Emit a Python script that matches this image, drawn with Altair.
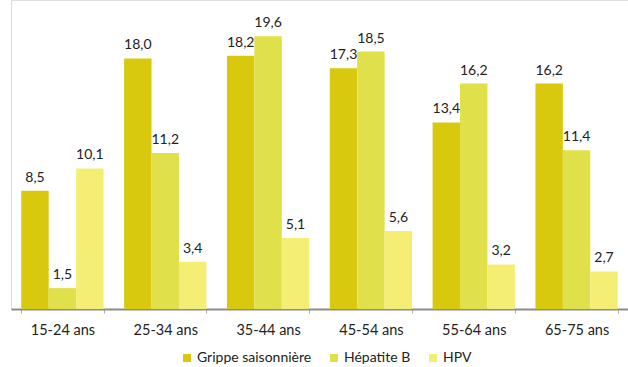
import altair as alt
import pandas as pd

categories = ["15-24 ans", "25-34 ans", "35-44 ans", "45-54 ans", "55-64 ans", "65-75 ans"]
series = ["Grippe saisonnière", "Hépatite B", "HPV"]
grippe = [8.5, 18.0, 18.2, 17.3, 13.4, 16.2]
hepatite = [1.5, 11.2, 19.6, 18.5, 16.2, 11.4]
hpv = [10.1, 3.4, 5.1, 5.6, 3.2, 2.7]
colors = ["#D9C90E", "#E0E04A", "#F4EF74"]

rows = []
for s, vals in zip(series, [grippe, hepatite, hpv]):
    for c, v in zip(categories, vals):
        rows.append({"cat": c, "serie": s, "val": v, "label": f"{v:.1f}".replace(".", ",")})
df = pd.DataFrame(rows)

FONT = "Lato"

base = alt.Chart(df).encode(
    x=alt.X("cat:N", sort=categories, title=None,
            scale=alt.Scale(paddingInner=0.2, paddingOuter=0.1),
            axis=alt.Axis(labelAngle=0, tickBand="extent", domainColor="#8c8c8c",
                          tickColor="#b0b0b0", tickSize=4, labelFontSize=14.5,
                          labelColor="#222222", labelFont=FONT, labelPadding=10,
                          domainWidth=2)),
    xOffset=alt.XOffset("serie:N", sort=series),
)

bars = base.mark_bar().encode(
    y=alt.Y("val:Q", scale=alt.Scale(domain=[0, 22.2], nice=False), axis=None),
    color=alt.Color("serie:N", sort=series,
                    scale=alt.Scale(domain=series, range=colors),
                    legend=alt.Legend(title=None, orient="none", direction="horizontal",
                                      legendX=169, legendY=351, symbolType="square",
                                      symbolSize=64, symbolStrokeWidth=0, labelOffset=3,
                                      labelFontSize=14, labelFont=FONT,
                                      labelColor="#222222", columnPadding=15)),
)

texts = base.mark_text(baseline="bottom", dy=-6, fontSize=14, font=FONT, color="#222222").encode(
    y=alt.Y("val:Q", scale=alt.Scale(domain=[0, 22.2], nice=False)),
    text="label:N",
)

chart = (bars + texts).properties(
    width=617, height=309,
    autosize=alt.AutoSizeParams(type="none"),
    padding={"left": 11, "top": 0, "right": 0, "bottom": 58},
).configure_view(stroke=None).configure(background="white")

chart.save("out.html", embed_options={"renderer": "svg", "actions": False})
